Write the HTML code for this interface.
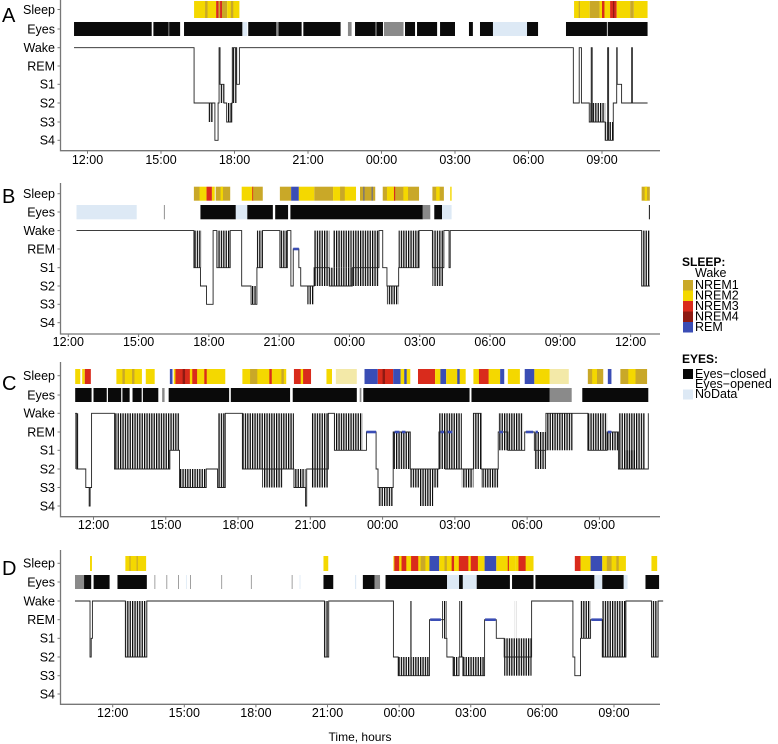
<!DOCTYPE html>
<html><head><meta charset="utf-8">
<style>
html,body{margin:0;padding:0;background:#fff;}
svg{display:block;font-family:"Liberation Sans",Arial,sans-serif;}
</style></head>
<body>
<svg id="chart" width="778" height="744" viewBox="0 0 778 744" xmlns="http://www.w3.org/2000/svg">
  <defs>
    <pattern id="stripes" patternUnits="userSpaceOnUse" width="2.4" height="10">
      <rect x="0" y="0" width="1.3" height="10" fill="#0a0a0a"/>
    </pattern>
  </defs>
  <g id="panels"></g>
  <g id="legend">
    <text x="682" y="266" font-size="12" font-weight="bold">SLEEP:</text>
    <text x="695" y="277" font-size="12.5">Wake</text>
    <rect x="683" y="280" width="10" height="10.5" fill="#c9a828"/>
    <text x="695" y="289" font-size="12.5">NREM1</text>
    <rect x="683" y="290.5" width="10" height="10.5" fill="#f4d800"/>
    <text x="695" y="299.5" font-size="12.5">NREM2</text>
    <rect x="683" y="301" width="10" height="10.5" fill="#d92b1c"/>
    <text x="695" y="310" font-size="12.5">NREM3</text>
    <rect x="683" y="311.5" width="10" height="10.5" fill="#8e1a12"/>
    <text x="695" y="320.5" font-size="12.5">NREM4</text>
    <rect x="683" y="322" width="10" height="10.5" fill="#3a4db5"/>
    <text x="695" y="331" font-size="12.5">REM</text>
    <text x="682" y="363" font-size="12" font-weight="bold">EYES:</text>
    <rect x="683" y="369" width="10" height="10" fill="#080808"/>
    <text x="695" y="378" font-size="12.5">Eyes−closed</text>
    <text x="695" y="388" font-size="12.5">Eyes−opened</text>
    <rect x="683" y="389.5" width="10" height="10" fill="#dde9f5"/>
    <text x="695" y="398" font-size="12.5">NoData</text>
  </g>
  <text x="360" y="741" font-size="12" text-anchor="middle">Time, hours</text>
</svg>
<script>
// Data: times are hours after 12:00 of day 1; stage 0=Wake,1=REM,2=S1,3=S2,4=S3,5=S4
const rowLabels = ["Sleep","Eyes","Wake","REM","S1","S2","S3","S4"];
const tickLabels = ["12:00","15:00","18:00","21:00","00:00","03:00","06:00","09:00","12:00"];
const tickHours = [0,3,6,9,12,15,18,21,24];
const panelLetters = ["A","B","C","D"];

const A_sleep = [[4.35,5.25,'N2'],[4.8,4.9,'N1'],[5.25,5.35,'N3'],[5.35,5.41,'N1'],[5.41,5.49,'N3'],[5.49,5.7,'N1'],[5.7,6.2,'N2'],[5.85,5.95,'N1'],[19.86,20.5,'N2'],[20.05,20.1,'N1'],[20.5,20.9,'N1'],[20.9,21.33,'N2'],[21.0,21.1,'N3'],[21.33,21.6,'N3'],[21.45,21.5,'N4'],[21.6,22.15,'N2'],[22.15,22.3,'N1'],[22.3,22.86,'N2']];
const A_eyes = [[-0.55,2.62,'C'],[2.69,3.78,'C'],[3.3,3.34,'G'],[3.94,6.32,'C'],[6.33,6.52,'N'],[6.56,8.74,'C'],[7.7,7.8,'G'],[8.81,10.33,'C'],[10.63,10.78,'G'],[10.92,12.06,'C'],[11.75,11.8,'G'],[12.1,12.9,'G'],[12.96,13.37,'C'],[13.45,14.27,'C'],[14.39,15.0,'C'],[15.57,15.73,'C'],[16.02,16.55,'C'],[16.55,17.94,'N'],[17.94,18.39,'C'],[19.53,22.86,'C'],[21.2,21.23,'W']];
const A_steps = [[-0.55,0],[4.35,3],[4.93,3],[5.2,5],[5.33,3],[5.37,0],[5.41,2],[5.57,3],[5.68,4],[5.89,3],[5.91,0],[6.09,2],[6.2,0],[19.83,3],[20.07,0],[20.16,3],[20.48,4],[20.56,0],[20.6,4],[21.13,5],[21.23,0],[21.27,5],[21.46,3],[21.6,0],[21.62,2],[21.8,3],[22.21,0],[22.24,3],[22.86,3]];
const A_bands = [[4.93,5.13,3,4],[5.41,5.57,2,3],[5.68,5.89,3,4],[5.91,6.09,0,3],[20.48,21.13,3,4],[21.13,21.46,4,5]];
const A_rem = [];

const B_sleep = [[5.36,5.6,'N1'],[5.6,5.9,'N2'],[5.9,6.13,'N3'],[6.13,6.25,'N2'],[6.29,6.91,'N1'],[6.5,6.6,'N2'],[7.4,7.89,'N2'],[7.85,7.9,'N3'],[7.89,8.3,'N1'],[9.03,9.51,'N1'],[9.51,9.84,'R'],[9.84,10.5,'N2'],[10.5,11.3,'N1'],[11.3,12.28,'N2'],[11.6,11.8,'N1'],[12.45,13.1,'N1'],[12.6,12.63,'R'],[12.95,12.98,'R'],[13.42,14.97,'N1'],[13.6,13.9,'N2'],[13.9,13.95,'N3'],[14.3,14.5,'N2'],[15.54,16.03,'N1'],[15.7,15.85,'N2'],[16.3,16.36,'N2'],[24.47,24.82,'N1'],[24.6,24.7,'N2']];
const B_eyes = [[0.35,2.92,'N'],[4.08,4.12,'G'],[5.64,7.15,'C'],[7.15,7.64,'N'],[7.64,8.73,'C'],[8.83,9.38,'C'],[9.48,15.13,'C'],[15.13,15.45,'G'],[15.62,15.95,'C'],[15.95,16.36,'N'],[24.78,24.82,'C']];
const B_steps = [[0.35,0],[5.36,2],[5.64,3],[5.9,4],[6.18,0],[6.34,2],[6.91,0],[7.4,3],[7.8,4],[8.05,2],[8.29,0],[9.03,2],[9.35,0],[9.5,3],[9.6,1],[9.84,2],[9.92,3],[10.49,2],[11.14,3],[12.12,2],[13.26,0],[13.42,2],[13.6,3],[14.1,2],[14.97,0],[15.54,2],[16.03,0],[16.25,2],[16.3,0],[24.47,3],[24.82,3]];
const B_bands = [[5.36,5.69,0,2],[6.34,6.91,0,2],[7.8,8.05,3,4],[8.05,8.29,0,2],[9.03,9.35,0,2],[10.2,10.49,3,4],[10.49,11.14,0,3],[11.14,12.12,2,3],[11.3,12.1,0,2],[12.12,13.26,0,3],[13.6,14.1,3,4],[14.1,14.97,0,2],[15.54,16.03,0,3],[24.47,24.82,0,3]];
const B_rem = [[9.6,9.84]];

const C_sleep = [[-0.76,-0.55,'N2'],[-0.47,-0.36,'N2'],[-0.36,-0.11,'N3'],[0.95,2.01,'N2'],[1.2,1.3,'N1'],[1.6,1.7,'N1'],[2.17,2.54,'N2'],[3.17,3.28,'R'],[3.33,5.47,'N2'],[3.4,4.3,'N3'],[3.7,3.8,'N4'],[4.0,4.1,'N2'],[4.6,4.7,'N3'],[6.18,8.0,'N2'],[6.5,6.8,'N1'],[7.3,7.4,'N3'],[7.8,7.9,'N1'],[8.32,9.03,'N3'],[8.6,8.7,'N2'],[9.67,9.9,'N2'],[10.06,10.93,'P'],[11.25,11.8,'R'],[11.8,12.44,'N3'],[12.0,12.1,'N4'],[12.44,12.75,'R'],[12.75,13.15,'N2'],[12.9,13.0,'R'],[13.47,14.18,'N3'],[14.18,14.4,'N2'],[14.4,14.64,'R'],[14.64,15.45,'N2'],[15.1,15.2,'R'],[15.77,16.88,'N2'],[16.0,16.4,'N3'],[16.88,17.05,'R'],[17.2,17.7,'N2'],[17.9,18.3,'R'],[18.3,18.94,'N2'],[18.94,19.73,'P'],[20.52,21.16,'N1'],[20.7,20.9,'N2'],[21.35,21.5,'R'],[21.87,22.98,'N1'],[22.2,22.5,'N2']];
const C_eyes = [[-0.76,-0.08,'C'],[0,1.5,'C'],[0.55,0.6,'W'],[1.15,1.2,'W'],[1.62,2.69,'C'],[2.0,2.05,'W'],[2.85,2.95,'G'],[3.12,5.63,'C'],[5.7,8.16,'C'],[8.27,10.93,'C'],[11.05,11.12,'G'],[11.2,15.61,'C'],[15.69,18.94,'C'],[18.94,19.85,'G'],[20.29,23.03,'C']];
const C_steps = [[-0.76,0],[-0.7,3],[-0.32,4],[-0.18,5],[-0.14,4],[-0.08,0],[0.87,3],[3.17,2],[3.57,4],[4.68,3],[5.15,4],[5.47,0],[6.18,3],[8.32,4],[8.8,5],[8.85,3],[9.75,0],[10.0,2],[11.33,1],[11.73,3],[11.81,4],[12.44,1],[13.15,3],[14.34,1],[14.6,3],[15.77,0],[16.09,3],[16.8,1],[17.2,2],[17.9,1],[18.3,2],[18.78,0],[20.52,2],[21.32,1],[21.79,3],[22.9,3],[23.03,0]];
const C_bands = [[-0.76,-0.63,0,3],[0.87,2.06,0,3],[2.06,3.17,0,3],[3.17,3.57,0,2],[3.57,4.68,3,4],[5.15,5.47,0,4],[6.18,7.84,0,3],[7.0,7.84,3,4],[7.84,8.32,0,3],[8.32,8.8,3,4],[9.03,9.75,0,4],[10.0,11.17,0,2],[11.81,12.44,4,5],[12.44,13.15,1,3],[13.15,14.34,3,4],[13.55,14.1,4,5],[14.34,15.29,0,3],[15.29,15.77,3,4],[15.77,16.09,0,3],[16.09,16.8,3,4],[16.8,17.2,0,2],[17.2,17.83,0,2],[18.3,18.78,1,3],[18.78,19.89,0,2],[20.52,21.32,0,2],[21.32,21.79,1,2],[21.79,22.9,0,3],[22.0,22.5,2,3]];
const C_rem = [[11.33,11.73],[12.5,12.7],[12.8,12.95],[14.4,14.55],[14.7,14.9],[16.85,17.0],[17.95,18.25],[18.35,18.45],[21.35,21.5]];

const D_sleep = [[-0.95,-0.87,'N2'],[0.53,1.4,'N2'],[0.7,0.75,'N1'],[1.0,1.05,'N1'],[8.83,9.03,'N2'],[11.76,13.27,'N2'],[11.8,12.0,'N3'],[12.1,12.3,'N3'],[12.5,12.8,'N3'],[12.9,13.1,'N1'],[13.27,13.68,'R'],[13.68,15.58,'N2'],[13.9,14.0,'N1'],[14.2,14.3,'N3'],[14.5,14.9,'N3'],[15.0,15.3,'N3'],[15.58,16.07,'R'],[16.07,16.89,'N2'],[16.55,16.6,'N3'],[16.89,17.63,'N2'],[17.0,17.3,'N3'],[19.36,19.6,'N3'],[19.6,20.02,'N2'],[20.02,20.51,'R'],[20.51,21.5,'N2'],[20.7,20.9,'N1'],[21.1,21.2,'N1'],[22.57,22.81,'N2']];
const D_eyes = [[-1.58,-1.2,'G'],[-1.2,-0.13,'C'],[-0.9,-0.8,'W'],[0.2,1.43,'C'],[1.75,1.78,'G'],[2.25,2.28,'G'],[2.74,2.77,'G'],[3.07,3.1,'N'],[3.24,3.27,'G'],[4.55,4.58,'G'],[5.79,5.82,'G'],[7.5,7.53,'G'],[7.83,7.86,'N'],[8.83,9.24,'C'],[10.15,10.2,'N'],[10.48,10.97,'C'],[10.97,11.2,'G'],[11.43,14.01,'C'],[14.01,14.51,'N'],[14.51,14.67,'C'],[14.67,15.25,'N'],[15.25,16.64,'C'],[16.73,17.63,'C'],[17.71,20.18,'C'],[20.18,20.51,'N'],[20.51,21.41,'C'],[21.41,21.57,'N'],[22.32,22.89,'C']];
const D_steps = [[-1.58,0],[-0.95,3],[-0.9,2],[-0.85,0],[0.53,3],[1.43,0],[8.87,3],[9.05,0],[11.76,3],[11.96,4],[13.27,1],[13.9,2],[14.0,3],[14.26,4],[14.51,3],[14.67,4],[15.58,1],[16.07,2],[16.4,3],[17.55,0],[19.28,3],[19.36,4],[19.6,2],[20.02,1],[20.51,3],[21.5,0],[22.57,3],[22.85,0],[23.06,0]];
const D_bands = [[0.53,1.43,0,3],[8.87,9.05,0,3],[11.96,13.27,3,4],[12.45,12.52,0,3],[13.8,14.0,0,2],[14.26,14.51,3,4],[14.51,14.67,0,3],[14.67,15.58,3,4],[16.4,17.55,2,4],[16.85,16.9,0,2],[19.6,20.02,0,2],[20.51,21.5,0,3],[22.57,22.85,0,3]];
const D_rem = [[13.3,13.75],[15.6,16.05],[20.05,20.5]];

const sleepColors = {N1:'#c9a828',N2:'#f4d800',N3:'#d92b1c',N4:'#8e1a12',R:'#3a4db5',P:'#f3e9a8'};
const eyeColors = {C:'#0a0a0a',N:'#dde9f5',G:'#8a8a8a',W:'#ffffff'};

// geometry (layout only)
const geoms = [
  {top:0, rows:[9.5,29,47.7,66,84.3,103,122,140.3], sb:[1,18], eb:[22,36], bottom:150.7, x12:87.5, pph:24.5, tickY:164, letterY:22},
  {top:183, rows:[193.7,212,230.6,249,267.7,286,304.3,322.7], sb:[186.7,200.7], eb:[205,219.3], bottom:334, x12:68.3, pph:23.43, tickY:346, letterY:203},
  {top:362, rows:[375.7,395,413.3,432,450.3,469,487.5,506], sb:[369,384], eb:[388,402], bottom:516.7, x12:93.5, pph:24.09, tickY:529, letterY:390},
  {top:550, rows:[563.3,582,601,619.7,638.3,657,675.7,694], sb:[556,571], eb:[575,589], bottom:704.3, x12:112.7, pph:23.87, tickY:717, letterY:575}
];
const allData = [
  [A_sleep,A_eyes,A_steps,A_bands,A_rem],
  [B_sleep,B_eyes,B_steps,B_bands,B_rem],
  [C_sleep,C_eyes,C_steps,C_bands,C_rem],
  [D_sleep,D_eyes,D_steps,D_bands,D_rem]
];

const NS='http://www.w3.org/2000/svg';
function mk(tag, attrs, parent){const e=document.createElementNS(NS,tag);for(const k in attrs)e.setAttribute(k,attrs[k]);parent.appendChild(e);return e;}
const root=document.getElementById('panels');
const AXL=60.5, AXR=660;

geoms.forEach((g,pi)=>{
  const [sleep,eyes,steps,bands,rem]=allData[pi];
  const X=h=>g.x12+h*g.pph;
  const Y=s=>g.rows[2+s];
  const pg=mk('g',{},root);
  
  
  const lt=mk('text',{x:2,y:g.letterY,'font-size':20},pg);
  
  
  lt.textContent=panelLetters[pi];
  rowLabels.forEach((r,i)=>{
    const t=mk('text',{x:55,y:g.rows[i]+4.3,'font-size':12.5,'text-anchor':'end'},pg);
    
    
    t.textContent=r;
    const tk=mk('line',{x1:AXL-3,x2:AXL,y1:g.rows[i],y2:g.rows[i],stroke:'#777','stroke-width':1},pg);
    
    
  });
  const ax=mk('path',{d:`M${AXL},${g.top}V${g.bottom}H${AXR}`,fill:'none',stroke:'#777','stroke-width':1.3},pg);
  
  
  tickHours.forEach((h,i)=>{
    const x=X(h); if(x<AXL||x>AXR)return;
    const tk=mk('line',{x1:x,x2:x,y1:g.bottom,y2:g.bottom+3,stroke:'#777','stroke-width':1},pg);
    
    
    const t=mk('text',{x:x,y:g.tickY,'font-size':12.5,'text-anchor':'middle'},pg);
    
    
    t.textContent=tickLabels[i];
  });
  sleep.forEach(s=>{
    const r=mk('rect',{x:X(s[0]),y:g.sb[0],width:Math.max(0.8,X(s[1])-X(s[0])),height:g.sb[1]-g.sb[0],fill:sleepColors[s[2]]},pg);
    
    
  });
  eyes.forEach(s=>{
    const r=mk('rect',{x:X(s[0]),y:g.eb[0],width:Math.max(0.8,X(s[1])-X(s[0])),height:g.eb[1]-g.eb[0],fill:eyeColors[s[2]]},pg);
    
    
  });
  bands.forEach(b=>{
    const r=mk('rect',{x:X(b[0]),y:Y(b[2]),width:Math.max(1,X(b[1])-X(b[0])),height:Y(b[3])-Y(b[2]),fill:'url(#stripes)'},pg);
    
    
  });
  let d='';
  steps.forEach((s,i)=>{
    if(i===0){d+=`M${X(s[0])},${Y(s[1])}`;}
    else{d+=`H${X(s[0])}V${Y(s[1])}`;}
  });
  const ln=mk('path',{d:d,fill:'none',stroke:'#222','stroke-width':0.9},pg);
  
  
  rem.forEach(r=>{
    const e=mk('line',{x1:X(r[0]),x2:X(r[1]),y1:Y(1),y2:Y(1),stroke:'#3a4db5','stroke-width':2.6},pg);
    
    
  });
});
</script>
</body></html>
